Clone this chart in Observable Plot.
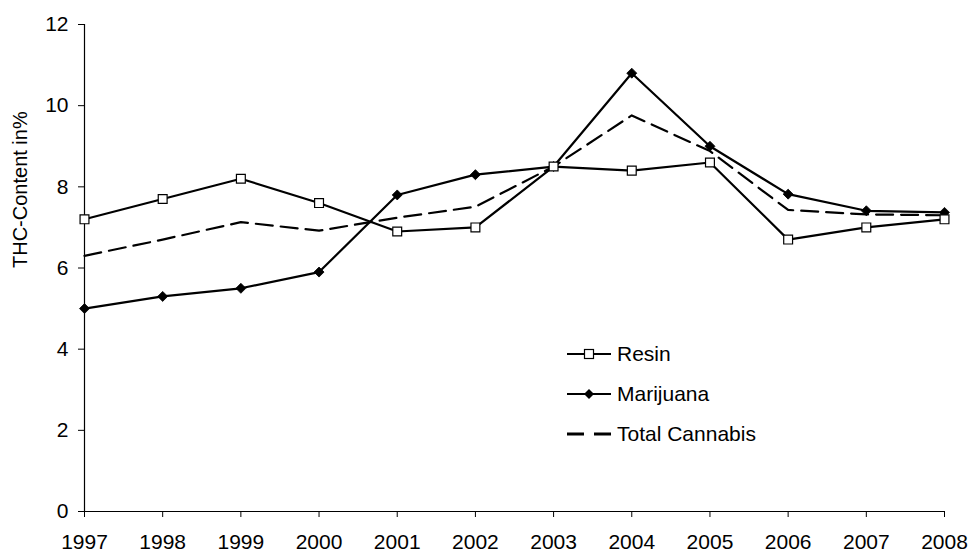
<!DOCTYPE html>
<html>
<head>
<meta charset="utf-8">
<script src="https://cdn.jsdelivr.net/npm/d3@7"></script>
<script src="https://cdn.jsdelivr.net/npm/@observablehq/plot@0.6"></script>
<style>
  body { margin: 0; background: #fff; }
  #wrap { position: relative; width: 971px; height: 552px; font-family: "Liberation Sans", Arial, sans-serif; }
  #legend { position: absolute; left: 566px; top: 334px; font-size: 21px; color: #000; }
  #legend .row { display: flex; align-items: center; height: 40px; }
  #legend svg { margin-right: 5px; }
</style>
</head>
<body>
<div id="wrap"></div>
<script>
const years = [1997, 1998, 1999, 2000, 2001, 2002, 2003, 2004, 2005, 2006, 2007, 2008];
const resin = [7.2, 7.7, 8.2, 7.6, 6.9, 7.0, 8.5, 8.4, 8.6, 6.7, 7.0, 7.2];
const marijuana = [5.0, 5.3, 5.5, 5.9, 7.8, 8.3, 8.5, 10.8, 9.0, 7.82, 7.41, 7.37];
const total = [6.3, 6.7, 7.13, 6.92, 7.24, 7.51, 8.5, 9.76, 8.88, 7.43, 7.32, 7.3];
const seriesNames = ["Resin", "Marijuana", "Total Cannabis"];
const yTicks = [0, 2, 4, 6, 8, 10, 12];
const yLabel = "THC-Content in%";

const rows = (vals, name) => years.map((year, i) => ({year, value: vals[i], series: name}));
const resinData = rows(resin, seriesNames[0]);
const marData = rows(marijuana, seriesNames[1]);
const totData = rows(total, seriesNames[2]);

const diamond = {
  draw(context, size) {
    const h = Math.sqrt(size / 2);
    context.moveTo(0, -h);
    context.lineTo(h, 0);
    context.lineTo(0, h);
    context.lineTo(-h, 0);
    context.closePath();
  }
};

const chart = Plot.plot({
  width: 971,
  height: 552,
  marginLeft: 84,
  marginRight: 27,
  marginTop: 24,
  marginBottom: 41,
  style: {fontFamily: "'Liberation Sans', Arial, sans-serif", fontSize: "21px", color: "#000", background: "#fff"},
  x: {domain: [1997, 2008], ticks: years, tickFormat: "d", tickSize: 6, tickPadding: 17, label: null},
  y: {domain: [0, 12], ticks: yTicks, tickSize: 6, tickPadding: 10, label: null},
  marks: [
    Plot.ruleX([1997], {stroke: "#000", strokeWidth: 1.2}),
    Plot.ruleY([0], {stroke: "#000", strokeWidth: 1.2}),
    Plot.line(totData, {x: "year", y: "value", stroke: "#000", strokeWidth: 2.2, strokeDasharray: "17,8"}),
    Plot.line(resinData, {x: "year", y: "value", stroke: "#000", strokeWidth: 2.2}),
    Plot.line(marData, {x: "year", y: "value", stroke: "#000", strokeWidth: 2.2}),
    Plot.dot(marData, {x: "year", y: "value", symbol: diamond, r: 4, fill: "#000", stroke: "#000", strokeWidth: 0.8}),
    Plot.dot(resinData, {x: "year", y: "value", symbol: "square", r: 5, fill: "#fff", stroke: "#000", strokeWidth: 1.2}),
    Plot.text([yLabel], {frameAnchor: "left", dx: -64, rotate: -90, fontSize: 20, fill: "#000"})
  ]
});
const wrap = document.getElementById("wrap");
wrap.appendChild(chart);

// legend
const legend = document.createElement("div");
legend.id = "legend";
const samples = [
  `<svg width="46" height="14"><line x1="1" y1="7" x2="45" y2="7" stroke="#000" stroke-width="2.2"/><rect x="18.5" y="2.5" width="9" height="9" fill="#fff" stroke="#000" stroke-width="1.2"/></svg>`,
  `<svg width="46" height="14"><line x1="1" y1="7" x2="45" y2="7" stroke="#000" stroke-width="2.2"/><path d="M23,2L28,7L23,12L18,7Z" fill="#000"/></svg>`,
  `<svg width="46" height="14"><line x1="1" y1="7" x2="45" y2="7" stroke="#000" stroke-width="2.8" stroke-dasharray="17,10"/></svg>`
];
legend.innerHTML = seriesNames.map((n, i) => `<div class="row">${samples[i]}<span>${n}</span></div>`).join("");
wrap.appendChild(legend);
</script>
</body>
</html>
